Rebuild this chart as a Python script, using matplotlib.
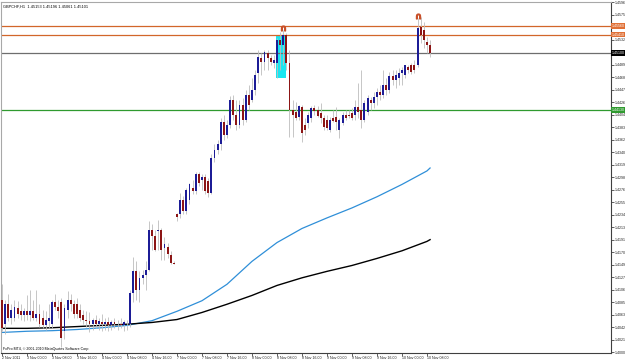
import matplotlib
matplotlib.use("Agg")
import matplotlib.pyplot as plt
from matplotlib.patches import Rectangle
import numpy as np

plt.rcParams['font.family'] = ['Liberation Sans', 'DejaVu Sans']

# GBPCHF H1 candles, 2 Nov 2011 16:00 .. 10 Nov 2011 09:00
opens = [1.4090, 1.4048, 1.4082, 1.4059, 1.4059, 1.4076, 1.4070, 1.4063, 1.4070, 1.4063,
         1.4070, 1.4059, 1.4066, 1.4059, 1.4046, 1.4053, 1.4048, 1.4085, 1.4078, 1.4085,
         1.4036, 1.4073, 1.4090, 1.4083, 1.4082, 1.4073, 1.4063, 1.4056, 1.4053, 1.4049,
         1.4056, 1.4048, 1.4051, 1.4049, 1.4051, 1.4046, 1.4051, 1.4048, 1.4049, 1.4046,
         1.4048, 1.4048, 1.4102, 1.4138, 1.4107, 1.4127, 1.4131, 1.4141, 1.4209, 1.4199,
         1.4206, 1.4209, 1.4178, 1.4180, 1.4165, 1.4153, 1.4235, 1.4235, 1.4260, 1.4240,
         1.4260, 1.4280, 1.4274, 1.4303, 1.4294, 1.4299, 1.4291, 1.4272, 1.4331, 1.4345,
         1.4354, 1.4393, 1.4371, 1.4388, 1.4430, 1.4405, 1.4388, 1.4422, 1.4396, 1.4439,
         1.4430, 1.4447, 1.4476, 1.4501, 1.4495, 1.4510, 1.4501, 1.4493, 1.4493,
         1.4532, 1.4524, 1.4541, 1.4493, 1.4413, 1.4410, 1.4401, 1.4418, 1.4388, 1.4391,
         1.4399, 1.4416, 1.4413, 1.4408, 1.4399, 1.4396, 1.4379, 1.4399, 1.4401, 1.4379,
         1.4391, 1.4405, 1.4405, 1.4408, 1.4405, 1.4418, 1.4413, 1.4396, 1.4410, 1.4430,
         1.4425, 1.4435, 1.4444, 1.4439, 1.4456, 1.4447, 1.4471, 1.4464, 1.4467, 1.4476,
         1.4473, 1.4486, 1.4490, 1.4490, 1.4490, 1.4554, 1.4549, 1.4529, 1.4524]
highs = [1.4116, 1.4090, 1.4099, 1.4082, 1.4090, 1.4087, 1.4082, 1.4076, 1.4097, 1.4107,
         1.4090, 1.4107, 1.4082, 1.4073, 1.4070, 1.4082, 1.4090, 1.4099, 1.4090, 1.4093,
         1.4082, 1.4104, 1.4099, 1.4090, 1.4093, 1.4082, 1.4073, 1.4070, 1.4068, 1.4059,
         1.4063, 1.4059, 1.4065, 1.4059, 1.4061, 1.4056, 1.4058, 1.4056, 1.4058, 1.4056,
         1.4056, 1.4107, 1.4163, 1.4155, 1.4138, 1.4141, 1.4155, 1.4223, 1.4219, 1.4209,
         1.4226, 1.4212, 1.4197, 1.4187, 1.4172, 1.4156, 1.4238, 1.4272, 1.4267, 1.4280,
         1.4289, 1.4294, 1.4308, 1.4308, 1.4304, 1.4304, 1.4297, 1.4337, 1.4354, 1.4362,
         1.4399, 1.4405, 1.4396, 1.4437, 1.4439, 1.4430, 1.4430, 1.4433, 1.4447, 1.4456,
         1.4467, 1.4481, 1.4515, 1.4510, 1.4515, 1.4515, 1.4507, 1.4507, 1.4535,
         1.4546, 1.4549, 1.4544, 1.4515, 1.4430, 1.4427, 1.4422, 1.4422, 1.4399, 1.4410,
         1.4420, 1.4422, 1.4420, 1.4425, 1.4405, 1.4405, 1.4401, 1.4413, 1.4418, 1.4399,
         1.4410, 1.4413, 1.4413, 1.4416, 1.4430, 1.4459, 1.4481, 1.4430, 1.4439, 1.4435,
         1.4444, 1.4450, 1.4456, 1.4481, 1.4467, 1.4478, 1.4481, 1.4481, 1.4484, 1.4486,
         1.4490, 1.4490, 1.4493, 1.4498, 1.4569, 1.4571, 1.4563, 1.4537, 1.4532]
lows = [1.4036, 1.4031, 1.4053, 1.4048, 1.4053, 1.4059, 1.4056, 1.4053, 1.4056, 1.4053,
        1.4056, 1.4053, 1.4044, 1.4042, 1.4039, 1.4042, 1.4042, 1.4073, 1.4059, 1.4010,
        1.4022, 1.4059, 1.4070, 1.4059, 1.4059, 1.4053, 1.4048, 1.4044, 1.4034, 1.4039,
        1.4042, 1.4039, 1.4036, 1.4039, 1.4037, 1.4039, 1.4041, 1.4039, 1.4042, 1.4036,
        1.4039, 1.4044, 1.4085, 1.4090, 1.4085, 1.4116, 1.4107, 1.4138, 1.4175, 1.4172,
        1.4175, 1.4158, 1.4158, 1.4161, 1.4151, 1.4150, 1.4223, 1.4229, 1.4235, 1.4235,
        1.4252, 1.4269, 1.4270, 1.4284, 1.4277, 1.4269, 1.4265, 1.4269, 1.4325, 1.4337,
        1.4345, 1.4362, 1.4365, 1.4382, 1.4396, 1.4379, 1.4382, 1.4388, 1.4393, 1.4413,
        1.4427, 1.4439, 1.4459, 1.4473, 1.4481, 1.4481, 1.4490, 1.4484, 1.4467,
        1.4481, 1.4490, 1.4481, 1.4367, 1.4367, 1.4396, 1.4396, 1.4359, 1.4371, 1.4382,
        1.4393, 1.4405, 1.4401, 1.4391, 1.4379, 1.4379, 1.4376, 1.4393, 1.4379, 1.4365,
        1.4388, 1.4396, 1.4399, 1.4396, 1.4396, 1.4399, 1.4382, 1.4393, 1.4405, 1.4413,
        1.4416, 1.4422, 1.4430, 1.4433, 1.4439, 1.4442, 1.4456, 1.4450, 1.4456, 1.4456,
        1.4467, 1.4476, 1.4474, 1.4476, 1.4486, 1.4527, 1.4518, 1.4510, 1.4503]
closes = [1.4042, 1.4082, 1.4059, 1.4073, 1.4078, 1.4065, 1.4063, 1.4070, 1.4063, 1.4070,
          1.4059, 1.4066, 1.4048, 1.4046, 1.4056, 1.4059, 1.4085, 1.4078, 1.4070, 1.4025,
          1.4076, 1.4090, 1.4082, 1.4065, 1.4066, 1.4059, 1.4056, 1.4053, 1.4048, 1.4056,
          1.4048, 1.4053, 1.4049, 1.4051, 1.4046, 1.4051, 1.4048, 1.4049, 1.4046, 1.4051,
          1.4048, 1.4102, 1.4138, 1.4107, 1.4127, 1.4131, 1.4141, 1.4209, 1.4199, 1.4175,
          1.4209, 1.4175, 1.4184, 1.4167, 1.4153, 1.4151, 1.4231, 1.4260, 1.4240, 1.4277,
          1.4286, 1.4275, 1.4303, 1.4289, 1.4299, 1.4274, 1.4272, 1.4331, 1.4345, 1.4354,
          1.4393, 1.4371, 1.4388, 1.4430, 1.4405, 1.4388, 1.4422, 1.4396, 1.4439, 1.4422,
          1.4447, 1.4473, 1.4503, 1.4495, 1.4512, 1.4501, 1.4495, 1.4498, 1.4532,
          1.4524, 1.4541, 1.4493, 1.4413, 1.4405, 1.4399, 1.4420, 1.4374, 1.4379, 1.4405,
          1.4416, 1.4411, 1.4403, 1.4399, 1.4384, 1.4382, 1.4396, 1.4394, 1.4393, 1.4396,
          1.4405, 1.4399, 1.4403, 1.4399, 1.4418, 1.4410, 1.4396, 1.4425, 1.4433, 1.4425,
          1.4435, 1.4444, 1.4439, 1.4456, 1.4447, 1.4471, 1.4464, 1.4473, 1.4476, 1.4481,
          1.4490, 1.4481, 1.4478, 1.4481, 1.4552, 1.4541, 1.4532, 1.4524, 1.4510]

# moving averages, sampled every 8 bars
ma_bars = [0, 8, 16, 24, 32, 40, 48, 56, 64, 72, 80, 88, 96, 104, 112, 120, 128, 136, 137]
ma_fast = [1.4034, 1.4036, 1.4037, 1.4039, 1.4042, 1.4046, 1.4054, 1.4070, 1.4088, 1.4116,
           1.4155, 1.4187, 1.4211, 1.4229, 1.4246, 1.4265, 1.4286, 1.4309, 1.4314]
ma_slow = [1.4041, 1.4041, 1.4042, 1.4044, 1.4046, 1.4048, 1.4051, 1.4056, 1.4068, 1.4082,
           1.4097, 1.4114, 1.4127, 1.4138, 1.4148, 1.4160, 1.4173, 1.4189, 1.4192]

time_labels = ["2 Nov 2011", "3 Nov 00:00", "3 Nov 08:00", "3 Nov 16:00", "4 Nov 00:00",
               "4 Nov 08:00", "4 Nov 16:00", "7 Nov 00:00", "7 Nov 08:00", "7 Nov 16:00",
               "8 Nov 00:00", "8 Nov 08:00", "8 Nov 16:00", "9 Nov 00:00", "9 Nov 08:00",
               "9 Nov 16:00", "10 Nov 00:00", "10 Nov 08:00"]

# horizontal lines drawn on the chart
level_orange_hi = 1.4556
level_orange_lo = 1.4541
level_bid = 1.4510
level_green = 1.4413
# cyan box around the top
box_bars = (87.7, 90.9)
box_prices = (1.4467, 1.4541)

header = "GBPCHF,H1  1.45153 1.45196 1.45061 1.45101"
footer = "FxPro MT4, \u00a9 2001-2010 MetaQuotes Software Corp."

o = np.array(opens); h = np.array(highs); l = np.array(lows); c = np.array(closes)
idx = np.arange(len(o))

fig = plt.figure(figsize=(6.25, 3.62), dpi=100)
ax = fig.add_axes([1 / 625, 9 / 362, 610 / 625, 351 / 362])
ax.set_xlim(-0.32, 194.9)
ax.set_ylim(1.3999, 1.45966)

ax.add_patch(Rectangle((box_bars[0], box_prices[0]), box_bars[1] - box_bars[0],
                       box_prices[1] - box_prices[0], facecolor='#19e6f0',
                       edgecolor='none', zorder=1))

for lvl, col in [(level_orange_hi, '#d2662a'), (level_orange_lo, '#d2662a'),
                 (level_bid, '#6e6e6e'), (level_green, '#2f9a2f')]:
    ax.axhline(lvl, color=col, lw=0.9, zorder=1.5)

ax.plot(ma_bars, ma_fast, color='#2f8fd8', lw=0.9, zorder=2)
ax.plot(ma_bars, ma_slow, color='black', lw=1.0, zorder=2)

ax.vlines(idx, l, h, color='#bdbdbd', lw=0.6, zorder=3)
up = c >= o
body_lo = np.minimum(o, c)
body_h = np.maximum(np.abs(c - o), 0.00006)
ax.bar(idx[up], body_h[up], bottom=body_lo[up], width=0.62, color='#1c1c96', zorder=4)
ax.bar(idx[~up], body_h[~up], bottom=body_lo[~up], width=0.62, color='#8c1515', zorder=4)

# fractal marks
ax.plot([90], [h[90] + 0.0003], marker=r'$\cap$', color='#c8502a', ms=3.5, zorder=5)
ax.plot([133], [h[133] + 0.0003], marker=r'$\cap$', color='#c8502a', ms=3.5, zorder=5)

# axes style
for s in ['top', 'left']:
    ax.spines[s].set_color('#a8a8a8')
    ax.spines[s].set_linewidth(0.8)
for s in ['right', 'bottom']:
    ax.spines[s].set_color('#404040')
    ax.spines[s].set_linewidth(0.8)

ax.yaxis.tick_right()
yt = 1.4000 + 0.00213 * np.arange(29)
ax.set_yticks(yt)
ax.set_yticklabels(['%.5f' % v for v in yt])
ax.tick_params(axis='y', labelsize=2.6, length=2, width=0.5, pad=0.5, colors='#202020')

ax.set_xticks(np.arange(0, 137, 8))
ax.set_xticklabels(time_labels, ha='left')
ax.tick_params(axis='x', labelsize=2.6, length=2, width=0.5, pad=0.5, colors='#202020')

# price boxes on the right scale
for lvl, col in [(level_orange_hi, '#e07036'), (level_orange_lo, '#e07036'),
                 (level_bid, '#000000'), (level_green, '#2f9a2f')]:
    ax.text(1.002, lvl, '%.5f' % lvl, transform=ax.get_yaxis_transform(),
            fontsize=2.6, color='white', va='center', ha='left', clip_on=False,
            bbox=dict(boxstyle='square,pad=0.2', facecolor=col, edgecolor='none'))

ax.text(0.004, 0.994, header, transform=ax.transAxes, fontsize=2.8, va='top', ha='left')
ax.text(0.004, 0.006, footer, transform=ax.transAxes, fontsize=2.6, va='bottom', ha='left')

fig.savefig('out.png', dpi=100, facecolor='white')
